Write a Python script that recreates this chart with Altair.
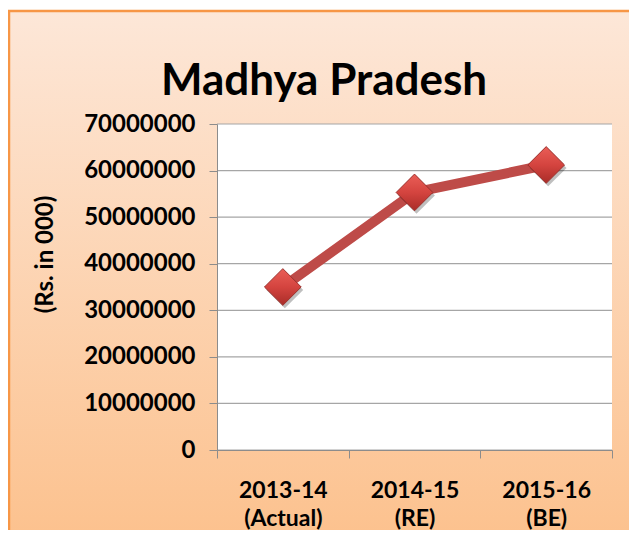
import altair as alt
import pandas as pd

years = ["2013-14 (Actual)", "2014-15 (RE)", "2015-16 (BE)"]
values = [35000000, 55300000, 61200000]
tick_values = [0, 10000000, 20000000, 30000000, 40000000, 50000000, 60000000, 70000000]
chart_title = "Madhya Pradesh"
y_title = "(Rs. in 000)"

W, H = 395, 326
FONT = "Lato"

df = pd.DataFrame({"year": years, "value": values})
grid_df = pd.DataFrame({"value": tick_values})
one = alt.Data(values=[{"a": 1}])

yscale = alt.Scale(domain=[0, 70000000], nice=False, zero=True)
xscale = alt.Scale(type="band", paddingInner=0, paddingOuter=0, domain=years)

xaxis = alt.Axis(title=None, labelExpr="split(datum.label, ' ')", labelAngle=0,
                 labelFont=FONT, labelFontWeight="bold", labelFontSize=23,
                 labelColor="black", labelPadding=21, labelLineHeight=28,
                 tickBand="extent", tickColor="#8c8c8c", tickSize=8,
                 domainColor="#8c8c8c", grid=False, zindex=1)
yaxis = alt.Axis(values=tick_values, format="d", title=y_title,
                 titleFont=FONT, titleFontWeight="bold", titleFontSize=24,
                 titleColor="black", titleAngle=270, titleX=-172, titleY=130,
                 titleAlign="center", titleBaseline="middle",
                 labelFont=FONT, labelFontWeight="bold", labelFontSize=24,
                 labelColor="black", labelPadding=14,
                 tickColor="#8c8c8c", tickSize=8, domainColor="#8c8c8c",
                 grid=False, zindex=1)

xenc = alt.X("year:N", sort=years, scale=xscale, bandPosition=0.5, axis=xaxis)
yenc = alt.Y("value:Q", scale=yscale, axis=yaxis)

bg = alt.Chart(one).mark_rect(
    color=alt.Gradient(
        gradient="linear",
        stops=[alt.GradientStop(color="#fde7d8", offset=0),
               alt.GradientStop(color="#fcc08b", offset=1)],
        x1=0, x2=0, y1=0, y2=1),
    stroke="#f79646", strokeWidth=2.5,
).encode(x=alt.value(-208), x2=alt.value(W + 40), y=alt.value(-113), y2=alt.value(H + 110))

plot_bg = alt.Chart(one).mark_rect(color="white").encode(
    x=alt.value(0), x2=alt.value(W), y=alt.value(0), y2=alt.value(H))

title = alt.Chart(one).mark_text(
    text=chart_title, font=FONT, fontSize=44, fontWeight="bold", color="black",
    align="center", baseline="alphabetic",
).encode(x=alt.value(107), y=alt.value(-29))

grid = alt.Chart(grid_df).mark_rule(color="#a6a6a6", strokeWidth=1.2).encode(
    y=yenc, x=alt.value(0), x2=alt.value(W))

line = alt.Chart(df).mark_line(color="#be4b48", strokeWidth=10).encode(x=xenc, y=yenc)

shadow = alt.Chart(df).mark_point(
    shape="diamond", filled=True, size=1350, color="black", opacity=0.25,
    xOffset=2, yOffset=3,
).encode(x=xenc, y=yenc)

points = alt.Chart(df).mark_point(
    shape="diamond", filled=True, size=1350, opacity=1,
    color=alt.Gradient(
        gradient="linear",
        stops=[alt.GradientStop(color="#ea5e57", offset=0),
               alt.GradientStop(color="#d4443f", offset=0.5),
               alt.GradientStop(color="#a92c28", offset=1)],
        x1=0, x2=0, y1=0, y2=1),
    stroke="#9a2f2b", strokeWidth=1,
).encode(x=xenc, y=yenc)

chart = alt.layer(bg, plot_bg, title, grid, line, shadow, points).properties(
    width=W, height=H, autosize="none",
    padding={"left": 209, "top": 116, "right": 17, "bottom": 80},
).configure_view(stroke=None).configure(background="white")

chart.save("out.html", embed_options={"renderer": "svg", "actions": False})
